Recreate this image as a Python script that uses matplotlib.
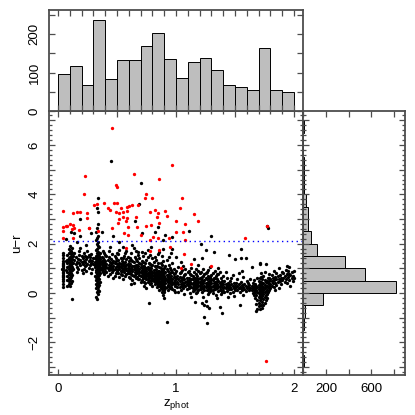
import numpy as np
import matplotlib
matplotlib.use("Agg")
import matplotlib.pyplot as plt
from matplotlib.ticker import MultipleLocator, FixedLocator, FixedFormatter

plt.rcParams['font.family'] = ['Liberation Sans', 'DejaVu Sans']
plt.rcParams['font.size'] = 9.5

# histogram of z_phot, 20 bins of 0.1 from 0 to 2
z_edges = np.arange(0, 2.01, 0.1)
z_counts = [96, 117, 67, 238, 83, 132, 134, 170, 203, 135,
            87, 127, 137, 107, 67, 63, 54, 163, 54, 50]

# histogram of u-r, bins of 0.5 from -3 to 7
ur_edges = np.arange(-3.0, 7.01, 0.5)
ur_counts = [1, 0, 0, 4, 13, 170, 822, 547, 372, 123,
             69, 43, 43, 22, 5, 4, 2, 0, 0, 1]

ur_cut = 2.1

# red (colour-selected) objects, (z_phot, u-r)
red_pts = [
    (0.46, 6.68), (0.23, 4.75), (0.97, 5.18), (0.64, 4.82), (0.49, 4.37), (0.50, 4.28),
    (0.86, 4.61), (0.22, 4.00), (0.75, 4.02), (0.80, 3.87), (0.74, 3.84), (1.05, 3.85),
    (0.39, 3.66), (1.03, 3.46), (1.15, 3.19), (1.19, 2.90), (1.77, 2.73), (0.04, 3.34),
    (1.585, 2.22), (0.13, 3.23), (0.16, 3.30), (0.19, 3.27), (0.25, 3.23), (0.305, 3.58),
    (0.33, 3.60), (0.42, 3.46), (0.44, 3.37), (0.475, 3.64), (0.50, 3.64), (0.53, 3.44),
    (0.49, 3.27), (0.52, 3.26), (0.55, 3.30), (0.585, 3.50), (0.60, 3.54), (0.63, 3.57),
    (0.587, 3.34), (0.68, 3.58), (0.66, 3.07), (0.78, 3.27), (0.82, 3.37), (0.85, 3.23),
    (0.84, 3.07), (0.86, 2.85), (0.91, 3.33), (0.92, 3.14), (1.00, 2.90), (0.55, 3.07),
    (0.52, 2.99), (0.51, 2.85), (0.58, 2.90), (0.585, 3.03), (0.59, 2.69), (0.56, 2.45),
    (0.59, 2.35), (0.46, 2.62), (0.34, 2.53), (0.26, 2.62), (0.175, 2.56), (0.135, 2.62),
    (0.12, 2.60), (0.10, 2.79), (0.076, 2.73), (0.04, 2.69), (0.04, 2.51), (0.045, 2.24),
    (0.13, 2.24), (0.70, 2.35), (0.67, 2.69), (0.75, 2.72), (0.79, 2.75), (0.805, 2.28),
    (0.78, 2.15), (0.85, 2.22), (0.94, 2.22), (0.58, 1.81), (0.78, 1.70), (0.86, 1.74),
    (1.00, 2.49), (1.08, 2.80), (1.06, 2.49), (1.08, 2.15), (1.07, 1.58), (1.04, 1.03),
    (1.13, 1.16), (1.30, 1.11), (0.95, 1.85), (1.76, -2.76), (0.07, 2.72), (0.13, 2.76),
    (0.265, 2.65), (0.25, 3.03),
]

# black objects above the cut / stragglers
black_high = [
    (0.45, 5.36), (0.70, 4.46), (0.34, 3.87), (0.33, 3.44), (0.34, 3.30), (0.33, 2.65),
    (0.32, 2.48), (0.34, 2.80), (0.19, 2.99), (0.11, 2.49), (0.14, 2.45), (0.19, 2.30),
    (0.28, 2.45), (0.07, 2.20), (0.16, 2.05), (0.24, 1.95), (0.47, 2.31), (0.375, 2.49),
    (0.52, 2.05), (0.63, 1.95), (0.69, 3.60), (0.65, 2.90), (0.71, 2.42), (0.82, 2.49),
    (0.85, 2.69), (0.91, 2.33), (0.89, 2.16), (0.97, 2.28), (1.11, 2.53), (1.30, 2.31),
    (1.78, 2.65), (1.77, 2.72), (0.97, 1.78), (1.00, 1.47), (1.15, 1.38), (1.22, 1.40),
    (1.21, 1.99), (1.25, 1.74), (1.32, 1.64), (1.45, 1.54), (1.55, 1.77), (1.55, 1.43),
    (1.59, 1.43), (1.50, 1.36), (1.64, 1.04), (1.71, 1.16), (1.76, 1.16), (1.71, 1.20),
]

# column at z~0.04 and streak at z~0.1
black_streak1 = [
    (0.04, 0.26), (0.04, 0.38), (0.04, 0.47), (0.04, 0.55), (0.04, 0.63), (0.04, 0.71),
    (0.04, 0.79), (0.04, 0.86), (0.04, 0.93), (0.04, 1.01), (0.04, 1.08), (0.04, 1.14),
    (0.04, 1.22), (0.04, 1.31), (0.04, 1.40), (0.04, 1.52), (0.04, 1.60), (0.035, 0.98),
    (0.045, 1.18), (0.045, 0.68),
    (0.08, 0.30), (0.09, 0.36), (0.10, 0.28), (0.11, 0.41), (0.09, 0.47), (0.08, 0.52),
    (0.10, 0.55), (0.12, 0.50), (0.09, 0.61), (0.11, 0.63), (0.08, 0.68), (0.10, 0.71),
    (0.12, 0.74), (0.09, 0.78), (0.11, 0.82), (0.08, 0.86), (0.10, 0.88), (0.12, 0.91),
    (0.09, 0.95), (0.11, 0.98), (0.10, 1.02), (0.08, 1.05), (0.12, 1.07), (0.09, 1.11),
    (0.11, 1.13), (0.10, 1.17), (0.08, 1.20), (0.12, 1.22), (0.09, 1.26), (0.11, 1.28),
    (0.10, 1.32), (0.08, 1.35), (0.12, 1.37), (0.09, 1.41), (0.11, 1.44), (0.10, 1.47),
    (0.13, 1.50), (0.08, 1.52), (0.11, 1.56), (0.09, 1.60), (0.12, 1.63), (0.10, 1.67),
    (0.11, 1.72), (0.09, 1.78), (0.12, 1.84), (0.10, 1.91), (0.13, 1.20), (0.13, 0.95),
    (0.07, 0.94), (0.07, 1.28), (0.10, 0.62), (0.11, 1.05), (0.09, 1.33), (0.10, 0.79),
    (0.12, -0.24),
]

black_band1 = [
    (0.14, 1.32), (0.15, 1.18), (0.15, 1.45), (0.16, 1.05), (0.16, 1.27), (0.17, 1.38),
    (0.17, 0.98), (0.18, 1.22), (0.18, 1.55), (0.19, 1.12), (0.19, 1.34), (0.20, 1.25),
    (0.20, 0.92), (0.21, 1.41), (0.21, 1.16), (0.22, 1.30), (0.22, 1.62), (0.23, 1.08),
    (0.23, 1.24), (0.24, 1.37), (0.24, 0.88), (0.25, 1.19), (0.25, 1.47), (0.26, 1.28),
    (0.26, 1.02), (0.27, 1.35), (0.27, 1.14), (0.28, 1.22), (0.28, 1.58), (0.29, 0.96),
    (0.29, 1.31), (0.30, 1.17), (0.30, 1.42), (0.31, 1.06), (0.31, 1.26), (0.14, 1.60),
    (0.16, 0.86), (0.18, 1.70), (0.20, 1.48), (0.22, 0.99), (0.24, 1.12), (0.26, 1.52),
    (0.28, 0.82), (0.19, 1.83), (0.25, 1.72), (0.21, 0.80), (0.27, 1.44), (0.23, 1.51),
]

# streak at z~0.33
streak2_y = [-0.25, -0.15, -0.05, 0.02, 0.08, 0.13, 0.18, 0.22, 0.27, 0.31, 0.35, 0.39,
             0.43, 0.47, 0.51, 0.55, 0.58, 0.62, 0.66, 0.70, 0.73, 0.77, 0.80, 0.84,
             0.87, 0.91, 0.94, 0.98, 1.01, 1.04, 1.08, 1.11, 1.14, 1.18, 1.21, 1.24,
             1.28, 1.31, 1.35, 1.38, 1.42, 1.46, 1.50, 1.54, 1.58, 1.63, 1.68, 1.73,
             1.79, 1.85, 1.92, 1.99, 2.06, 2.14, 2.22, 2.32, 0.95, 1.12, 1.26, 0.68,
             0.45, 1.40, 0.85]
streak2_x = [0.33, 0.32, 0.34, 0.33, 0.345, 0.335, 0.325, 0.34, 0.33, 0.35, 0.32, 0.335,
             0.34, 0.33, 0.325, 0.345, 0.33, 0.34, 0.32, 0.335, 0.35, 0.33, 0.34, 0.325,
             0.33, 0.345, 0.32, 0.34, 0.335, 0.33, 0.35, 0.325, 0.34, 0.33, 0.32, 0.345,
             0.335, 0.33, 0.34, 0.325, 0.33, 0.345, 0.32, 0.34, 0.335, 0.33, 0.34, 0.325,
             0.33, 0.345, 0.335, 0.33, 0.34, 0.325, 0.33, 0.335, 0.355, 0.31, 0.355, 0.31,
             0.355, 0.31, 0.35]

black_band2 = [
    (0.35, 1.22), (0.36, 1.05), (0.36, 1.38), (0.37, 0.92), (0.37, 1.16), (0.37, 1.47),
    (0.38, 1.28), (0.38, 0.84), (0.38, 1.09), (0.39, 1.35), (0.39, 1.00), (0.39, 1.20),
    (0.40, 1.55), (0.40, 0.88), (0.40, 1.12), (0.36, 1.60), (0.35, 0.98), (0.38, 1.42),
    (0.39, 0.75), (0.37, 1.30), (0.36, 0.80), (0.40, 1.30), (0.35, 1.48), (0.38, 1.72),
    (0.39, 1.62), (0.37, 1.03), (0.36, 1.18), (0.40, 1.01), (0.38, 0.97), (0.35, 1.12),
    (0.41, 1.18), (0.41, 0.86), (0.42, 1.32), (0.42, 1.02), (0.43, 1.45), (0.43, 0.93),
    (0.43, 1.14), (0.44, 1.25), (0.44, 0.76), (0.45, 1.08), (0.45, 1.38), (0.45, 0.97),
    (0.46, 1.20), (0.46, 1.56), (0.46, 0.84), (0.47, 1.11), (0.47, 1.31), (0.48, 0.99),
    (0.48, 1.23), (0.48, 0.70), (0.49, 1.40), (0.49, 1.06), (0.50, 1.16), (0.50, 0.88),
    (0.41, 1.50), (0.42, 0.68), (0.44, 1.05), (0.47, 0.92), (0.49, 1.28), (0.50, 1.62),
    (0.43, 1.72), (0.46, 1.02), (0.48, 1.48), (0.41, 1.04), (0.44, 1.88), (0.47, 0.60),
    (0.45, 1.23), (0.49, 0.81),
    (0.51, 1.10), (0.51, 0.82), (0.51, 1.35), (0.52, 0.95), (0.52, 1.22), (0.52, 0.66),
    (0.53, 1.05), (0.53, 1.42), (0.53, 0.88), (0.54, 1.15), (0.54, 0.74), (0.54, 1.30),
    (0.55, 0.98), (0.55, 1.20), (0.55, 0.58), (0.56, 1.08), (0.56, 0.85), (0.56, 1.48),
    (0.57, 1.00), (0.57, 1.25), (0.57, 0.70), (0.58, 0.92), (0.58, 1.12), (0.58, 1.38),
    (0.59, 0.80), (0.59, 1.03), (0.59, 1.18), (0.60, 0.95), (0.60, 0.64), (0.60, 1.28),
    (0.51, 1.58), (0.52, 1.08), (0.53, 0.76), (0.54, 1.00), (0.55, 1.40), (0.56, 0.96),
    (0.57, 1.62), (0.58, 0.78), (0.59, 1.45), (0.60, 1.10), (0.52, 1.75), (0.55, 1.85),
    (0.58, 1.70), (0.53, 1.18), (0.56, 1.22), (0.59, 0.90), (0.54, 0.88), (0.57, 1.10),
    (0.60, 0.82), (0.51, 0.97),
]

black_band3 = [
    (0.61, 0.92), (0.61, 1.18), (0.61, 0.60), (0.62, 1.02), (0.62, 0.78), (0.62, 1.35),
    (0.63, 0.88), (0.63, 1.10), (0.63, 0.52), (0.64, 0.96), (0.64, 1.24), (0.64, 0.70),
    (0.65, 0.84), (0.65, 1.06), (0.65, 1.45), (0.66, 0.92), (0.66, 0.62), (0.66, 1.15),
    (0.67, 0.80), (0.67, 1.02), (0.67, 1.30), (0.68, 0.88), (0.68, 0.55), (0.68, 1.10),
    (0.69, 0.96), (0.69, 0.74), (0.69, 1.22), (0.70, 0.85), (0.70, 1.04), (0.70, 0.45),
    (0.61, 1.42), (0.62, 0.95), (0.63, 1.28), (0.64, 0.42), (0.65, 0.72), (0.66, 1.38),
    (0.67, 0.66), (0.68, 1.52), (0.69, 0.86), (0.70, 1.18), (0.62, 1.60), (0.64, 1.08),
    (0.66, 0.82), (0.68, 0.98), (0.70, 0.68), (0.63, 0.74), (0.65, 0.96), (0.67, 1.12),
    (0.69, 1.40), (0.61, 0.82), (0.66, 1.72), (0.64, 1.82), (0.68, 1.68), (0.62, 0.38),
    (0.69, 0.58),
    (0.71, 0.80), (0.71, 1.05), (0.71, 0.52), (0.72, 0.72), (0.72, 0.95), (0.72, 1.25),
    (0.73, 0.64), (0.73, 0.86), (0.73, 1.10), (0.74, 0.40), (0.74, 0.78), (0.74, 0.98),
    (0.75, 0.70), (0.75, 0.90), (0.75, 1.35), (0.76, 0.58), (0.76, 0.82), (0.76, 1.06),
    (0.77, 0.48), (0.77, 0.74), (0.77, 0.96), (0.78, 0.66), (0.78, 0.88), (0.78, 1.18),
    (0.79, 0.54), (0.79, 0.78), (0.79, 1.00), (0.80, 0.62), (0.80, 0.85), (0.80, 0.30),
    (0.71, 1.30), (0.72, 0.60), (0.73, 0.45), (0.74, 1.20), (0.75, 0.55), (0.76, 0.95),
    (0.77, 1.22), (0.78, 0.35), (0.79, 0.90), (0.80, 1.12), (0.71, 0.68), (0.72, 0.84),
    (0.73, 1.00), (0.74, 0.62), (0.75, 0.78), (0.76, 0.68), (0.77, 0.86), (0.78, 0.76),
    (0.79, 0.68), (0.80, 0.74), (0.72, 1.48), (0.74, 1.62), (0.76, 1.45), (0.78, 1.55),
    (0.80, 1.40), (0.73, 0.28), (0.75, 0.20), (0.77, -0.42), (0.79, 0.40), (0.71, 0.92),
    (0.73, 0.74), (0.75, 1.02), (0.77, 0.62), (0.79, 1.15), (0.74, 0.88), (0.76, 0.46),
    (0.78, 1.02), (0.80, 0.52), (0.72, 1.08), (0.76, 1.75), (0.79, 1.85), (0.71, 1.68),
]

black_band4 = [
    (0.81, 0.70), (0.81, 0.48), (0.81, 0.92), (0.82, 0.60), (0.82, 0.82), (0.82, 1.10),
    (0.83, 0.52), (0.83, 0.74), (0.83, 0.96), (0.84, 0.40), (0.84, 0.64), (0.84, 0.86),
    (0.85, 0.56), (0.85, 0.78), (0.85, 1.20), (0.86, 0.30), (0.86, 0.50), (0.86, 0.68),
    (0.86, 0.88), (0.87, 0.18), (0.87, 0.38), (0.87, 0.58), (0.87, 0.76), (0.87, 1.00),
    (0.88, 0.05), (0.88, 0.26), (0.88, 0.44), (0.88, 0.62), (0.88, 0.82), (0.89, -0.10),
    (0.89, 0.14), (0.89, 0.34), (0.89, 0.52), (0.89, 0.70), (0.89, 0.92), (0.90, -0.20),
    (0.90, 0.02), (0.90, 0.22), (0.90, 0.42), (0.90, 0.60), (0.90, 0.80), (0.81, 1.25),
    (0.82, 0.36), (0.83, 1.35), (0.84, 1.08), (0.85, 0.32), (0.86, 1.05), (0.87, 1.22),
    (0.88, 1.12), (0.89, 1.30), (0.90, 1.02), (0.82, 0.72), (0.84, 0.50), (0.86, 0.76),
    (0.88, 0.54), (0.90, 0.30), (0.83, 0.62), (0.85, 0.68), (0.87, 0.46), (0.89, 0.60),
    (0.81, 0.58), (0.83, 0.84), (0.85, 0.45), (0.87, 0.66), (0.89, 0.44), (0.86, 0.12),
    (0.88, 0.36), (0.90, 0.50), (0.84, 0.24), (0.82, 1.45), (0.85, 1.58), (0.88, 1.48),
    (0.86, 1.65), (0.89, 1.78), (0.81, 0.80), (0.83, 0.42), (0.85, 0.90), (0.87, 0.28),
    (0.88, 0.70), (0.89, 0.24), (0.90, 0.70), (0.86, 0.60), (0.87, 0.86), (0.88, 0.16),
    (0.89, 0.82), (0.84, 0.74), (0.82, 0.50), (0.90, 0.12), (0.86, 0.40), (0.88, 0.94),
    (0.91, 0.62), (0.91, 0.40), (0.91, 0.84), (0.92, 0.52), (0.92, 0.24), (0.92, 0.74),
    (0.92, -1.20), (0.93, 0.45), (0.93, 0.66), (0.93, 0.90), (0.94, 0.30), (0.94, 0.55),
    (0.94, 0.78), (0.95, 0.40), (0.95, 0.62), (0.95, 1.00), (0.96, 0.22), (0.96, 0.48),
    (0.96, 0.70), (0.97, 0.35), (0.97, 0.58), (0.97, 0.86), (0.98, 0.44), (0.98, 0.65),
    (0.98, 0.12), (0.99, 0.30), (0.99, 0.52), (0.99, 0.80), (1.00, 0.40), (1.00, 0.60),
    (0.91, 1.10), (0.92, 0.98), (0.93, 0.10), (0.94, 1.15), (0.95, 0.18), (0.96, 0.92),
    (0.97, 1.20), (0.98, 0.95), (0.99, 0.05), (1.00, 0.88), (0.91, 0.20), (0.93, 0.34),
    (0.95, 0.82), (0.97, 0.14), (0.99, 0.64), (0.92, 1.32), (0.94, 1.45), (0.96, 1.60),
    (0.93, 0.56), (0.95, 0.50), (0.97, 0.42), (0.99, 0.38), (0.91, 0.52), (0.94, 0.66),
    (0.96, 0.36), (0.98, 0.76),
]

black_band5 = [
    (1.01, 0.45), (1.01, 0.22), (1.01, 0.70), (1.02, 0.35), (1.02, 0.58), (1.02, 0.05),
    (1.03, 0.48), (1.03, 0.26), (1.03, 0.80), (1.04, 0.38), (1.04, 0.60), (1.04, 0.12),
    (1.05, 0.30), (1.05, 0.52), (1.05, 0.92), (1.06, 0.42), (1.06, 0.20), (1.06, 0.66),
    (1.07, 0.34), (1.07, 0.55), (1.07, -0.05), (1.08, 0.46), (1.08, 0.28), (1.08, 0.75),
    (1.09, 0.38), (1.09, 0.14), (1.09, 0.60), (1.10, 0.32), (1.10, 0.50), (1.10, 0.85),
    (1.02, 1.05), (1.04, 0.85), (1.06, 1.10), (1.08, 0.98), (1.05, 0.40), (1.03, 0.65),
    (1.07, 0.72), (1.09, 0.48), (1.04, 1.25),
    (1.11, 0.40), (1.11, 0.18), (1.11, 0.62), (1.12, 0.30), (1.12, 0.52), (1.12, -0.02),
    (1.13, 0.42), (1.13, 0.22), (1.13, 0.72), (1.14, 0.35), (1.14, 0.56), (1.14, 0.08),
    (1.15, 0.28), (1.15, 0.46), (1.15, 0.85), (1.16, 0.38), (1.16, 0.16), (1.16, 0.60),
    (1.16, -0.35), (1.17, 0.32), (1.17, 0.50), (1.17, 0.00), (1.18, 0.42), (1.18, 0.24),
    (1.18, 0.68), (1.19, 0.34), (1.19, 0.12), (1.19, 0.55), (1.20, 0.28), (1.20, 0.45),
    (1.20, 0.80), (1.11, 0.90), (1.13, 1.02), (1.17, 0.95), (1.19, 1.12), (1.12, 0.75),
    (1.14, 0.20), (1.16, 0.48), (1.18, 0.05), (1.20, 0.62), (1.11, 0.28), (1.13, 0.55),
    (1.15, 0.62), (1.17, 0.20), (1.19, 0.44), (1.12, 0.40), (1.14, 0.70), (1.16, 0.30),
    (1.18, 0.58), (1.20, 0.14), (1.13, -0.15), (1.17, 0.78), (1.15, 0.10), (1.19, 0.90),
    (1.21, 0.36), (1.21, 0.14), (1.21, 0.58), (1.22, 0.28), (1.22, 0.48), (1.22, -0.39),
    (1.23, 0.40), (1.23, 0.18), (1.23, 0.68), (1.24, 0.30), (1.24, 0.52), (1.24, -0.99),
    (1.24, -0.48), (1.25, 0.24), (1.25, 0.42), (1.25, 0.80), (1.26, 0.34), (1.26, 0.10),
    (1.26, -1.23), (1.26, -0.55), (1.27, 0.28), (1.27, 0.46), (1.27, -0.05), (1.28, 0.38),
    (1.28, 0.20), (1.28, -0.62), (1.28, 0.62), (1.29, 0.30), (1.29, 0.08), (1.29, 0.50),
    (1.30, 0.24), (1.30, 0.40), (1.30, 0.72), (1.21, 0.85), (1.23, 0.98), (1.27, 0.92),
    (1.29, 1.05), (1.22, 0.65), (1.24, 0.12), (1.26, 0.56), (1.28, 0.02), (1.30, 0.58),
    (1.23, -0.18), (1.25, -0.32), (1.27, 0.15), (1.29, 0.66), (1.21, 0.25), (1.23, 0.50),
    (1.25, 0.60), (1.27, 0.70), (1.29, 0.18), (1.22, 0.05), (1.24, 0.78), (1.26, 0.85),
    (1.28, 0.48), (1.30, 0.10),
]

black_band6 = [
    (1.31, 0.30), (1.31, 0.10), (1.31, 0.52), (1.32, 0.22), (1.32, 0.42), (1.33, 0.34),
    (1.33, 0.14), (1.33, 0.62), (1.34, 0.26), (1.34, 0.46), (1.34, -0.10), (1.35, 0.18),
    (1.35, 0.38), (1.35, 0.75), (1.36, 0.30), (1.36, 0.06), (1.36, 0.50), (1.37, 0.22),
    (1.37, 0.40), (1.37, -0.58), (1.38, 0.32), (1.38, 0.12), (1.38, 0.60), (1.39, 0.24),
    (1.39, 0.02), (1.39, -0.80), (1.40, 0.20), (1.40, 0.36), (1.40, 0.68), (1.31, 0.80),
    (1.33, 0.90), (1.35, -0.22), (1.37, 0.85), (1.39, 0.48), (1.32, 0.60), (1.34, 0.68),
    (1.36, 0.78), (1.38, -0.05), (1.40, 0.08), (1.33, 0.44), (1.35, 0.55), (1.37, 0.10),
    (1.39, 0.38), (1.31, -0.02), (1.36, 1.00), (1.38, 0.44),
    (1.41, 0.26), (1.41, 0.05), (1.41, 0.48), (1.42, 0.18), (1.42, 0.36), (1.43, 0.28),
    (1.43, 0.08), (1.43, 0.60), (1.44, 0.20), (1.44, 0.40), (1.45, 0.14), (1.45, 0.32),
    (1.46, 0.24), (1.46, -0.02), (1.46, 0.50), (1.47, 0.16), (1.47, 0.36), (1.48, 0.28),
    (1.48, 0.04), (1.48, 0.72), (1.49, 0.20), (1.49, 0.42), (1.50, 0.12), (1.50, 0.30),
    (1.42, 0.85), (1.44, -0.15), (1.47, 0.62), (1.49, -0.12),
    (1.51, 0.22), (1.51, 0.40), (1.52, 0.10), (1.52, 0.30), (1.52, 0.58), (1.53, 0.18),
    (1.53, 0.36), (1.54, -0.51), (1.54, 0.26), (1.54, 0.05), (1.55, 0.20), (1.55, 0.44),
    (1.56, 0.12), (1.56, 0.32), (1.57, 0.24), (1.57, 0.66), (1.58, 0.16), (1.58, 0.36),
    (1.59, 0.08), (1.59, 0.28), (1.60, 0.20), (1.60, 0.48), (1.53, 0.80), (1.57, -0.10),
    (1.56, 0.90),
]

black_band7 = [
    (1.61, 0.22), (1.61, 0.42), (1.62, 0.12), (1.62, 0.32), (1.63, 0.20), (1.63, 0.55),
    (1.64, 0.10), (1.64, 0.30), (1.65, 0.00), (1.65, 0.18), (1.65, 0.40), (1.66, -0.10),
    (1.66, 0.10), (1.66, 0.28), (1.66, 0.52), (1.67, -0.20), (1.67, 0.02), (1.67, 0.20),
    (1.67, 0.38), (1.68, -0.43), (1.68, -0.73), (1.68, -0.08), (1.68, 0.12), (1.68, 0.30),
    (1.69, -0.30), (1.69, -0.66), (1.69, 0.05), (1.69, 0.22), (1.69, 0.60),
    (1.70, -0.40), (1.70, -0.18), (1.70, 0.00), (1.70, 0.15), (1.70, 0.32), (1.70, 0.50),
    (1.71, -0.66), (1.71, -0.28), (1.71, -0.08), (1.71, 0.08), (1.71, 0.24), (1.71, 0.42),
    (1.72, -0.50), (1.72, -0.22), (1.72, -0.02), (1.72, 0.12), (1.72, 0.28), (1.72, 0.46),
    (1.72, 0.65), (1.73, -0.35), (1.73, -0.12), (1.73, 0.04), (1.73, 0.20), (1.73, 0.36),
    (1.73, 0.55), (1.74, -0.25), (1.74, -0.05), (1.74, 0.10), (1.74, 0.26), (1.74, 0.42),
    (1.74, 0.70), (1.75, -0.40), (1.75, -0.15), (1.75, 0.02), (1.75, 0.18), (1.75, 0.34),
    (1.75, 0.52), (1.76, -0.08), (1.76, 0.08), (1.76, 0.24), (1.76, 0.44), (1.77, -0.20),
    (1.77, 0.12), (1.77, 0.30), (1.77, 0.50), (1.78, 0.02), (1.78, 0.22), (1.78, 0.40),
    (1.78, 0.62), (1.79, 0.10), (1.79, 0.30), (1.79, 0.48), (1.79, 0.75), (1.80, 0.20),
    (1.80, 0.38), (1.80, 0.58), (1.70, -0.55), (1.72, 0.80), (1.74, -0.48), (1.76, -0.30),
    (1.73, -0.60), (1.71, 0.60), (1.75, 0.85), (1.77, -0.05), (1.79, 0.62), (1.72, 0.36),
    (1.74, 0.18),
    (1.81, 0.50), (1.81, 0.30), (1.81, 0.72), (1.82, 0.42), (1.82, 0.62), (1.83, 0.24),
    (1.83, 0.52), (1.83, 0.90), (1.84, 0.40), (1.84, 0.66), (1.85, 0.32), (1.85, 0.55),
    (1.85, 0.82), (1.86, 0.46), (1.86, 0.70), (1.87, 0.20), (1.87, 0.58), (1.87, 1.00),
    (1.88, 0.48), (1.88, 0.74), (1.89, 0.36), (1.89, 0.62), (1.90, 0.52), (1.90, 0.84),
    (1.84, 0.12),
    (1.91, 0.60), (1.91, 0.82), (1.92, 0.45), (1.92, 0.70), (1.93, 0.94), (1.93, 0.56),
    (1.94, 0.76), (1.94, 0.40), (1.95, 0.64), (1.95, 0.88), (1.96, 0.52), (1.96, 1.05),
    (1.97, 0.72), (1.97, 0.30), (1.98, 0.60), (1.98, 0.85), (1.99, 0.48), (1.99, 0.70),
    (2.00, 0.62), (2.00, 0.90), (1.96, 0.78), (1.94, 1.10),
]

frame_col = '#4d4d4d'
bar_col = '#bebebe'


def style_axes(ax):
    for s in ax.spines.values():
        s.set_color(frame_col)
        s.set_linewidth(1.3)
    ax.tick_params(which='both', direction='in', top=True, right=True,
                   color=frame_col, width=0.9)
    ax.tick_params(which='major', length=4, pad=4)
    ax.tick_params(which='minor', length=2)


fig = plt.figure(figsize=(4.15, 4.15), dpi=100)
ax = fig.add_axes([49/415, 40/415, 254/415, 264/415])
ax_top = fig.add_axes([49/415, 304/415, 254/415, 101/415])
ax_right = fig.add_axes([303/415, 40/415, 102/415, 264/415])

# main scatter
black = np.array(black_streak1 + black_band1 + list(zip(streak2_x, streak2_y)) +
                 black_band2 + black_band3 + black_band4 + black_band5 +
                 black_band6 + black_band7 + black_high)
red = np.array(red_pts)
ax.plot(black[:, 0], black[:, 1], 'o', ms=2.4, mew=0, color='black')
ax.plot(red[:, 0], red[:, 1], 'o', ms=2.4, mew=0, color='red')
ax.plot([-0.04, 2.1], [ur_cut, ur_cut], ls=(0, (1, 2.5)), color='blue', lw=1.0)

ax.set_xlim(-0.076, 2.076)
ax.set_ylim(-3.33, 7.38)
ax.xaxis.set_major_locator(FixedLocator([0, 0.5, 1, 1.5, 2]))
ax.xaxis.set_major_formatter(FixedFormatter(['0', '', '1', '', '2']))
ax.xaxis.set_minor_locator(MultipleLocator(0.1))
yt = [-3, -2, -1, 0, 1, 2, 3, 4, 5, 6, 7]
ax.yaxis.set_major_locator(FixedLocator(yt))
ax.yaxis.set_major_formatter(FixedFormatter(['', '\u22122', '', '0', '', '2', '', '4', '', '6', '']))
ax.yaxis.set_minor_locator(MultipleLocator(0.2))
style_axes(ax)
ax.tick_params(axis='x', which='major', pad=6)
ax.tick_params(axis='y', which='major', pad=6)
for t in ax.get_yticklabels():
    t.set_rotation(90)
    t.set_va('center')
ax.set_xlabel('z$_{\\mathregular{phot}}$', labelpad=1)
ax.set_ylabel('u\u2212r', labelpad=4)

# top histogram
ax_top.bar(z_edges[:-1], z_counts, width=0.1, align='edge', color=bar_col,
           edgecolor='black', linewidth=0.7)
ax_top.set_xlim(-0.076, 2.076)
ax_top.set_ylim(0, 263)
ax_top.xaxis.set_major_locator(MultipleLocator(0.1))
ax_top.tick_params(axis='x', labelbottom=False)
ax_top.yaxis.set_major_locator(FixedLocator([0, 50, 100, 150, 200, 250]))
ax_top.yaxis.set_major_formatter(FixedFormatter(['0', '', '100', '', '200', '']))
style_axes(ax_top)
ax_top.tick_params(axis='y', which='major', pad=6)
for t in ax_top.get_yticklabels():
    t.set_rotation(90)
    t.set_va('center')

# right histogram
ax_right.barh(ur_edges[:-1], ur_counts, height=0.5, align='edge', color=bar_col,
              edgecolor='black', linewidth=0.7)
ax_right.set_ylim(-3.33, 7.38)
ax_right.set_xlim(-4, 900)
ax_right.xaxis.set_major_locator(FixedLocator([0, 200, 400, 600, 800]))
ax_right.xaxis.set_major_formatter(FixedFormatter(['', '200', '', '600', '']))
ax_right.yaxis.set_major_locator(MultipleLocator(1))
ax_right.yaxis.set_minor_locator(MultipleLocator(0.2))
ax_right.tick_params(axis='y', labelleft=False)
style_axes(ax_right)
ax_right.tick_params(axis='x', which='major', pad=6)

fig.savefig('out.png', dpi=100)
